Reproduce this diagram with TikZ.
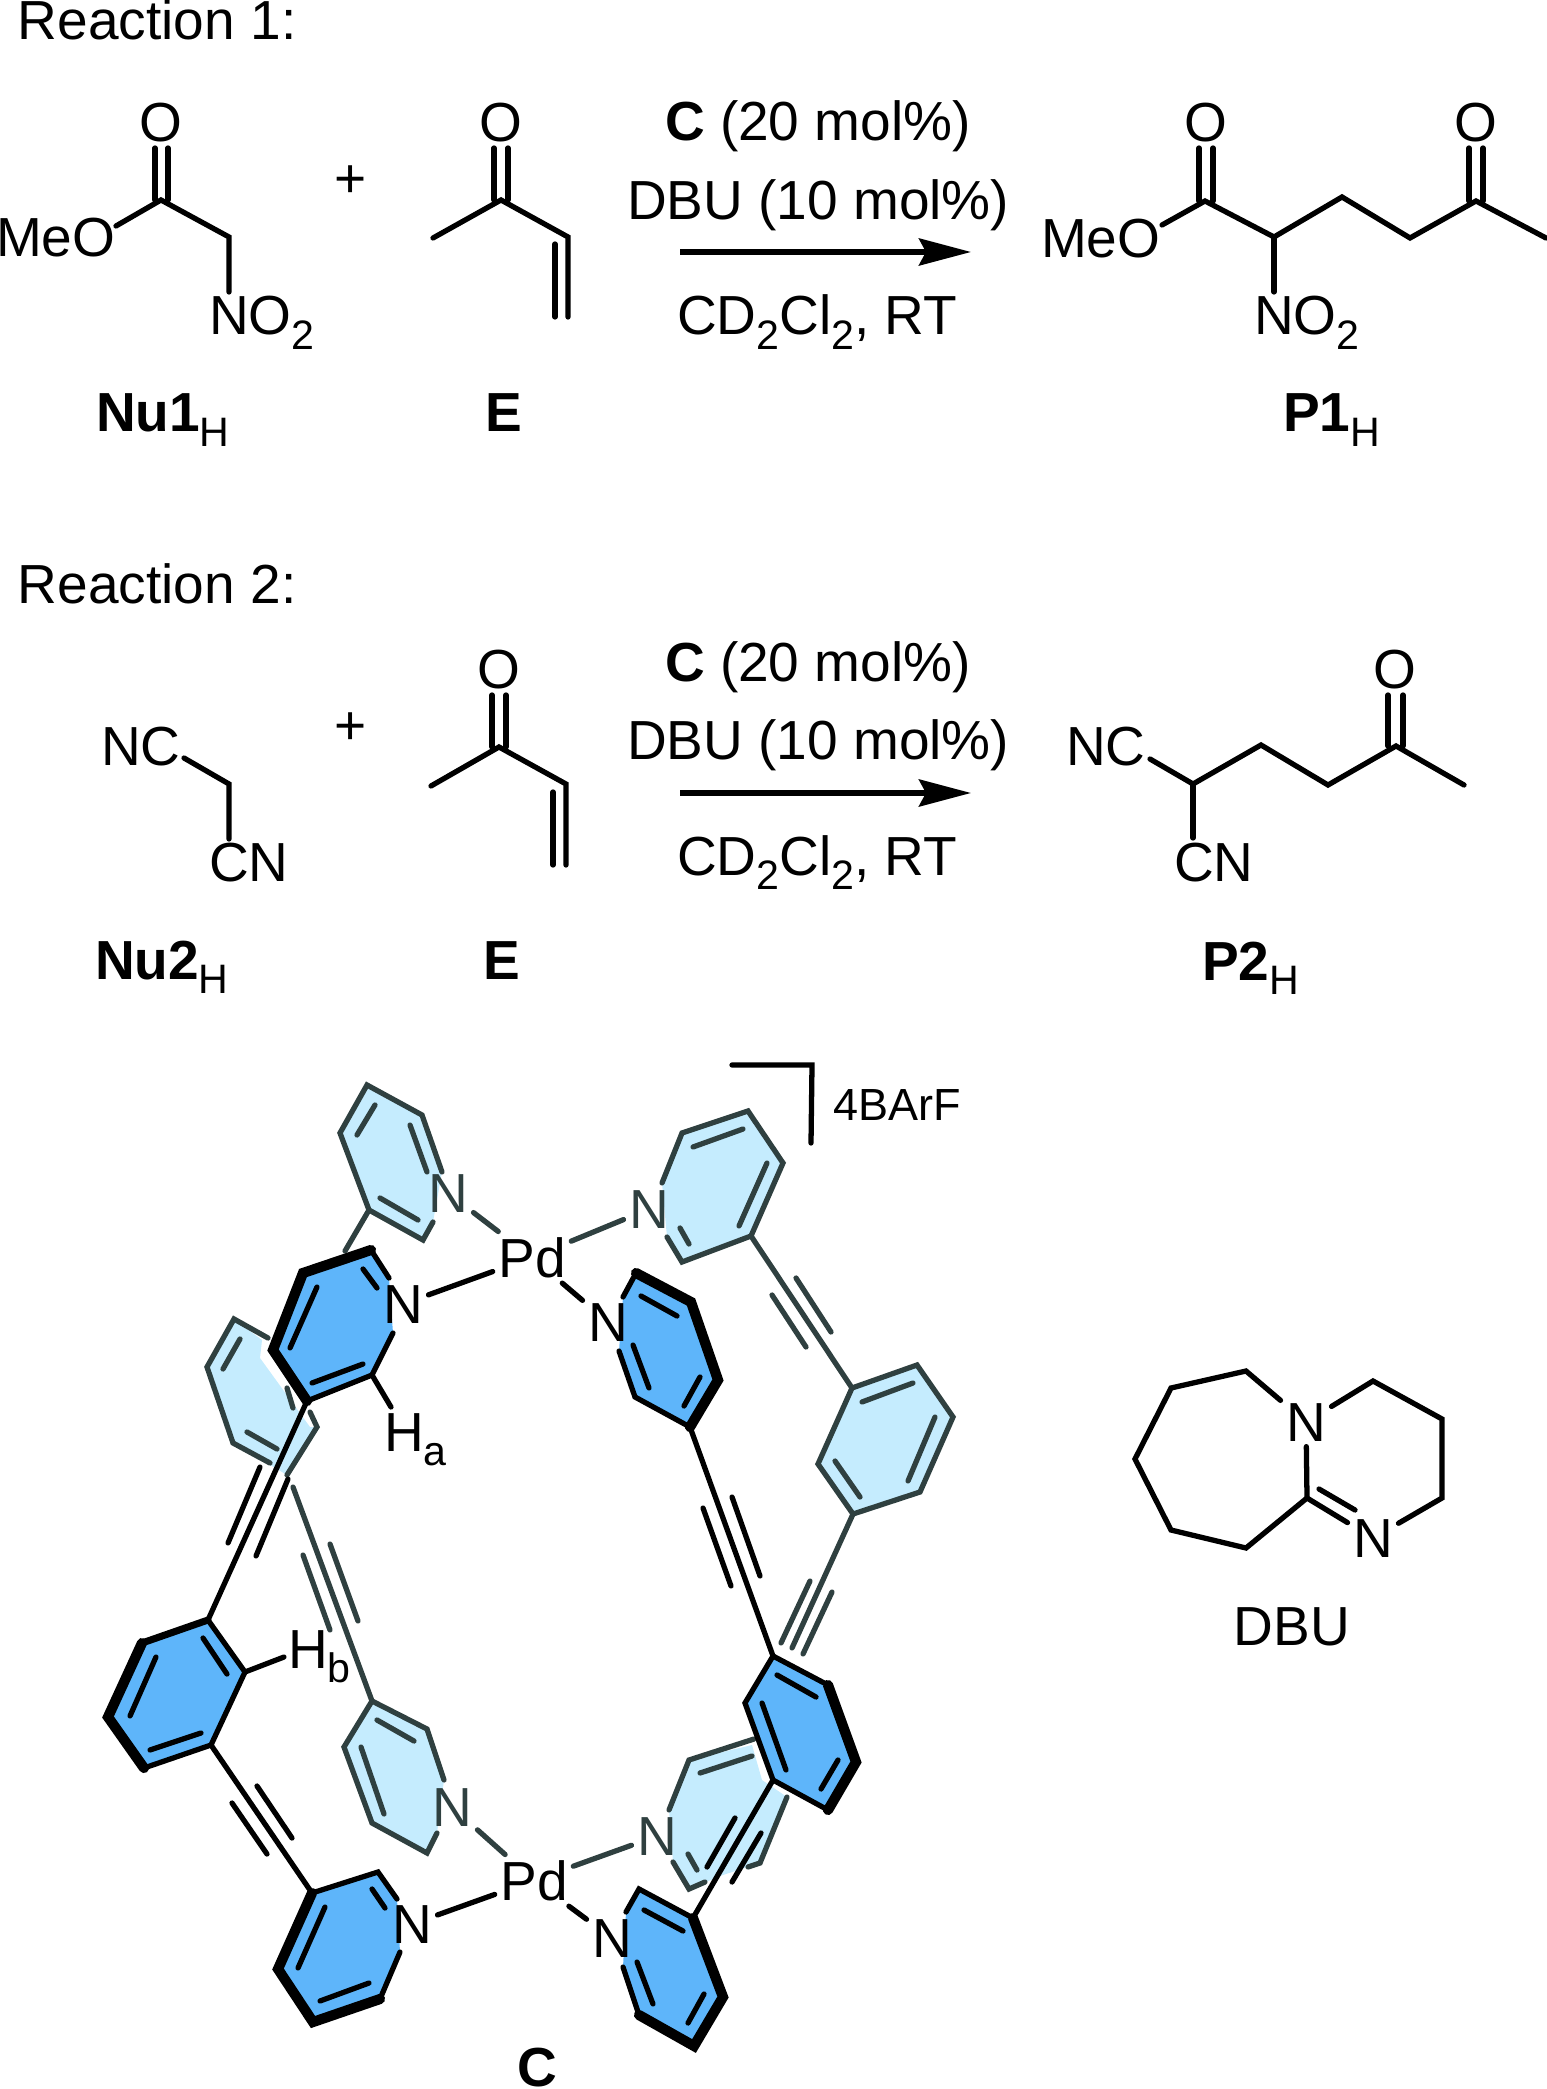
\documentclass[tikz,border=0pt]{standalone}
\usepackage{fontspec}
\setmainfont{Liberation Sans}
\usetikzlibrary{arrows.meta}
\definecolor{backgray}{HTML}{2F4040}
\definecolor{darkring}{HTML}{5EB5FA}
\definecolor{lightring}{HTML}{C5ECFE}
\newcommand{\lowsub}[1]{\raisebox{-4pt}{\fontsize{11.7}{12}\selectfont #1}}
\tikzset{
  bond/.style={line width=1.5pt,line cap=round,line join=miter},
  boldbond/.style={line width=2.9pt,line cap=round,line join=miter},
  backbond/.style={bond,draw=backgray},
  atom/.style={inner sep=0pt,outer sep=1.6pt,anchor=base,font=\fontsize{15.65}{18}\selectfont},
  backatom/.style={atom,text=backgray},
  txt/.style={atom,outer sep=0pt,anchor=base west}
}
\begin{document}
\begin{tikzpicture}[x=0.01cm,y=-0.01cm]
\useasboundingbox (0,0) rectangle (1546,2089);
\node[txt] (Trxa) at (18,40) {Reaction 1:};
\node[txt] (Trxb) at (18,604) {Reaction 2:};
\node[atom] (Oa) at (161,142) {O};
\node[txt] (Mea) at (-4,257) {MeO};
\node[txt] (Noa) at (209,335) {NO\lowsub{2}};
\node[atom,anchor=center] (Plusa) at (351,182) {+};
\node[atom] (Ob) at (501,142) {O};
\node[txt] (Nua) at (96,432) {\textbf{Nu1}\lowsub{H}};
\node[txt] (Ea) at (485,432) {\textbf{E}};
\node[txt] (Caa) at (665,141) {\textbf{C} (20 mol\%)};
\node[txt] (Dba) at (627,220) {DBU (10 mol\%)};
\node[txt] (Cda) at (677,335) {CD\lowsub{2}Cl\lowsub{2}, RT};
\node[txt] (Mep) at (1041,258) {MeO};
\node[atom] (Oc) at (1206,142) {O};
\node[atom] (Od) at (1476,142) {O};
\node[txt] (Nop) at (1254,335) {NO\lowsub{2}};
\node[txt] (Pa) at (1283,432) {\textbf{P1}\lowsub{H}};
\coordinate (aa) at (116,226); \coordinate (ab) at (161,200); \coordinate (ac) at (229,237); \coordinate (ad) at (229,292);
\coordinate (ae) at (155,148); \coordinate (af) at (155,200); \coordinate (ag) at (168,148); \coordinate (ah) at (168,200);
\coordinate (ea) at (433,238); \coordinate (eb) at (501,200); \coordinate (ec) at (568,237); \coordinate (ed) at (568,317);
\coordinate (ee) at (555,244); \coordinate (ef) at (555,317);
\coordinate (eg) at (494,148); \coordinate (eh) at (494,200); \coordinate (ei) at (508,148); \coordinate (ej) at (508,200);
\coordinate (ra) at (680,252); \coordinate (rb) at (971,252);
\coordinate (pa) at (1162,225); \coordinate (pb) at (1205,201); \coordinate (pc) at (1274,237); \coordinate (pd) at (1342,197);
\coordinate (pe) at (1410,238); \coordinate (pf) at (1476,201); \coordinate (pg) at (1546,238); \coordinate (ph) at (1274,292);
\coordinate (pi) at (1199,148); \coordinate (pj) at (1199,201); \coordinate (pk) at (1213,148); \coordinate (pl) at (1213,201);
\coordinate (pm) at (1469,148); \coordinate (pn) at (1469,201); \coordinate (po) at (1483,148); \coordinate (pp) at (1483,201);
\draw[bond] (aa) -- (ab) -- (ac) -- (ad);
\draw[bond] (ae) -- (af);
\draw[bond] (ag) -- (ah);
\draw[bond] (ea) -- (eb) -- (ec) -- (ed);
\draw[bond] (ee) -- (ef);
\draw[bond] (eg) -- (eh);
\draw[bond] (ei) -- (ej);
\draw[line width=1.55pt,-{Stealth[length=0.52cm,width=0.27cm,inset=0.07cm]}] (ra) -- (rb);
\draw[bond] (pa) -- (pb) -- (pc) -- (pd) -- (pe) -- (pf) -- (pg);
\draw[bond] (pc) -- (ph);
\draw[bond] (pi) -- (pj);
\draw[bond] (pk) -- (pl);
\draw[bond] (pm) -- (pn);
\draw[bond] (po) -- (pp);
\node[txt] (Ncq) at (101,766) {NC};
\node[txt] (Cnq) at (209,882) {CN};
\node[atom,anchor=center] (Plusb) at (351,729) {+};
\node[atom] (Oe) at (499,689) {O};
\node[txt] (Nub) at (95,979) {\textbf{Nu2}\lowsub{H}};
\node[txt] (Eb) at (483,979) {\textbf{E}};
\node[txt] (Cab) at (665,682) {\textbf{C} (20 mol\%)};
\node[txt] (Dbb) at (627,760) {DBU (10 mol\%)};
\node[txt] (Cdb) at (677,875) {CD\lowsub{2}Cl\lowsub{2}, RT};
\node[txt] (Ncr) at (1066,766) {NC};
\node[txt] (Cnr) at (1174,882) {CN};
\node[atom] (Of) at (1395,689) {O};
\node[txt] (Pb) at (1202,980) {\textbf{P2}\lowsub{H}};
\coordinate (qa) at (184,758); \coordinate (qb) at (229,784); \coordinate (qc) at (229,839);
\coordinate (sa) at (431,786); \coordinate (sb) at (499,747); \coordinate (sc) at (566,784); \coordinate (sd) at (566,865);
\coordinate (se) at (553,792); \coordinate (sf) at (553,865);
\coordinate (sg) at (492,695); \coordinate (sh) at (492,747); \coordinate (si) at (506,695); \coordinate (sj) at (506,747);
\coordinate (ta) at (680,793); \coordinate (tb) at (971,793);
\coordinate (ua) at (1150,759); \coordinate (ub) at (1193,784); \coordinate (uc) at (1261,745); \coordinate (ud) at (1328,785);
\coordinate (ue) at (1396,746); \coordinate (uf) at (1464,785); \coordinate (ug) at (1193,838);
\coordinate (uh) at (1388,695); \coordinate (ui) at (1388,746); \coordinate (uj) at (1403,695); \coordinate (uk) at (1403,746);
\draw[bond] (qa) -- (qb) -- (qc);
\draw[bond] (sa) -- (sb) -- (sc) -- (sd);
\draw[bond] (se) -- (sf);
\draw[bond] (sg) -- (sh);
\draw[bond] (si) -- (sj);
\draw[line width=1.55pt,-{Stealth[length=0.52cm,width=0.27cm,inset=0.07cm]}] (ta) -- (tb);
\draw[bond] (ua) -- (ub) -- (uc) -- (ud) -- (ue) -- (uf);
\draw[bond] (ub) -- (ug);
\draw[bond] (uh) -- (ui);
\draw[bond] (uj) -- (uk);
\node[atom] (Pdt) at (532,1277) {Pd};
\node[atom] (Pdb) at (534,1900) {Pd};
\node[txt] (Ha) at (384,1451) {H\lowsub{a}};
\node[txt] (Hb) at (288,1668) {H\lowsub{b}};
\node[atom,font=\fontsize{15.65}{18}\selectfont\bfseries] (Cage) at (537,2086) {C};
\node[txt,font=\fontsize{12.8}{15}\selectfont] (Anion) at (833,1120) {4BArF};
\coordinate (a1) at (367,1085); \coordinate (a2) at (422,1115); \coordinate (a3) at (423,1240); \coordinate (a4) at (369,1210); \coordinate (a5) at (340,1133); \coordinate (a6) at (345,1251);
\coordinate (a7) at (442,1172); \coordinate (a8) at (433,1222);
\coordinate (ap1) at (410,1125); \coordinate (ap2) at (427,1172); \coordinate (aq1) at (380,1198); \coordinate (aq2) at (418,1220); \coordinate (ar1) at (375,1105); \coordinate (ar2) at (357,1135);
\fill[lightring] (a1) -- (a2) -- (a7) -- (a8) -- (a3) -- (a4) -- (a5) -- cycle;
\node[backatom] (Na) at (448,1212) {N};
\draw[backbond] (a8) -- (a3) -- (a4) -- (a5) -- (a1) -- (a2) -- (a7);
\draw[backbond] (a4) -- (a6);
\draw[backbond] (ap1) -- (ap2);
\draw[backbond] (aq1) -- (aq2);
\draw[backbond] (ar1) -- (ar2);
\draw[backbond] (Na) -- (Pdt);
\coordinate (c1) at (234,1319); \coordinate (c2) at (268,1338); \coordinate (c3) at (262,1340); \coordinate (c4) at (260,1358); \coordinate (c5) at (310,1427); \coordinate (c6) at (317,1427);
\coordinate (c7) at (287,1475); \coordinate (c8) at (233,1443); \coordinate (c9) at (207,1367); \coordinate (c10) at (270,1463);
\coordinate (cf1) at (287,1388); \coordinate (cf2) at (293,1408); \coordinate (cf3) at (310,1412);
\coordinate (cp1) at (240,1339); \coordinate (cp2) at (223,1369); \coordinate (cq1) at (247,1432); \coordinate (cq2) at (277,1449);
\fill[lightring] (c1) -- (c3) -- (c4) -- (c5) -- (c6) -- (c7) -- (c8) -- (c9) -- cycle;
\draw[backbond] (c2) -- (c1) -- (c9) -- (c8) -- (c10);
\draw[backbond] (cf3) -- (c6) -- (c7);
\draw[backbond] (cf1) -- (cf2);
\draw[backbond] (cp1) -- (cp2);
\draw[backbond] (cq1) -- (cq2);
\coordinate (f1) at (372,1701); \coordinate (f2) at (427,1729); \coordinate (f3) at (444,1780); \coordinate (f4) at (437,1833); \coordinate (f5) at (427,1853); \coordinate (f6) at (372,1823); \coordinate (f7) at (344,1747);
\coordinate (f8) at (293,1487); \coordinate (fs1) at (303,1555); \coordinate (fs2) at (330,1630); \coordinate (fs3) at (330,1544); \coordinate (fs4) at (358,1621);
\coordinate (fp1) at (377,1720); \coordinate (fp2) at (414,1741); \coordinate (fq1) at (361,1747); \coordinate (fq2) at (384,1814);
\fill[lightring] (f1) -- (f2) -- (f3) -- (f4) -- (f5) -- (f6) -- (f7) -- cycle;
\node[backatom] (Nf) at (452,1826) {N};
\draw[backbond] (f3) -- (f2) -- (f1) -- (f7) -- (f6) -- (f5) -- (f4);
\draw[backbond] (f8) -- (f1);
\draw[backbond] (fs1) -- (fs2);
\draw[backbond] (fs3) -- (fs4);
\draw[backbond] (fp1) -- (fp2);
\draw[backbond] (fq1) -- (fq2);
\draw[backbond] (Nf) -- (Pdb);
\coordinate (g1) at (682,1133); \coordinate (g2) at (748,1111); \coordinate (g3) at (783,1163); \coordinate (g4) at (751,1236); \coordinate (g5) at (682,1262); \coordinate (g6) at (667,1237); \coordinate (g7) at (662,1183);
\coordinate (gs1) at (772,1295); \coordinate (gs2) at (806,1347); \coordinate (gs3) at (796,1278); \coordinate (gs4) at (831,1332);
\coordinate (gp1) at (693,1147); \coordinate (gp2) at (743,1129); \coordinate (gq1) at (767,1163); \coordinate (gq2) at (739,1226); \coordinate (gr1) at (680,1228); \coordinate (gr2) at (689,1244);
\coordinate (h1) at (852,1388); \coordinate (h2) at (917,1365); \coordinate (h3) at (953,1417); \coordinate (h4) at (920,1492); \coordinate (h5) at (853,1514); \coordinate (h6) at (818,1464);
\coordinate (hp1) at (862,1402); \coordinate (hp2) at (913,1383); \coordinate (hq1) at (935,1417); \coordinate (hq2) at (908,1481); \coordinate (hr1) at (835,1461); \coordinate (hr2) at (860,1497);
\coordinate (h7) at (792,1648); \coordinate (hs1) at (810,1581); \coordinate (hs2) at (781,1643); \coordinate (hs3) at (832,1592); \coordinate (hs4) at (803,1654);
\fill[lightring] (g1) -- (g2) -- (g3) -- (g4) -- (g5) -- (g6) -- (g7) -- cycle;
\fill[lightring] (h1) -- (h2) -- (h3) -- (h4) -- (h5) -- (h6) -- cycle;
\node[backatom] (Ng) at (649,1228) {N};
\draw[backbond] (g7) -- (g1) -- (g2) -- (g3) -- (g4) -- (g5) -- (g6);
\draw[backbond] (gp1) -- (gp2);
\draw[backbond] (gq1) -- (gq2);
\draw[backbond] (gr1) -- (gr2);
\draw[backbond] (Ng) -- (Pdt);
\draw[backbond] (g4) -- (h1) -- (h2) -- (h3) -- (h4) -- (h5) -- (h6) -- (h1);
\draw[backbond] (gs1) -- (gs2);
\draw[backbond] (gs3) -- (gs4);
\draw[backbond] (hp1) -- (hp2);
\draw[backbond] (hq1) -- (hq2);
\draw[backbond] (hr1) -- (hr2);
\draw[backbond] (h5) -- (h7);
\draw[backbond] (hs1) -- (hs2);
\draw[backbond] (hs3) -- (hs4);
\coordinate (l1) at (689,1760); \coordinate (l2) at (754,1739); \coordinate (l3) at (669,1810); \coordinate (l4) at (787,1797); \coordinate (l5) at (760,1863); \coordinate (l6) at (748,1867);
\coordinate (l7) at (673,1862); \coordinate (l8) at (689,1889); \coordinate (l9) at (705,1882);
\coordinate (lf1) at (752,1745); \coordinate (lf2) at (762,1780); \coordinate (lf3) at (723,1875);
\coordinate (lp1) at (700,1773); \coordinate (lp2) at (752,1756); \coordinate (lq1) at (688,1854); \coordinate (lq2) at (697,1870);
\fill[lightring] (l1) -- (lf1) -- (lf2) -- (l4) -- (l5) -- (lf3) -- (l8) -- (l7) -- (l3) -- cycle;
\node[backatom] (Nl) at (657,1855) {N};
\draw[backbond] (l3) -- (l1) -- (l2);
\draw[backbond] (l4) -- (l5) -- (l6);
\draw[backbond] (l7) -- (l8) -- (l9);
\draw[backbond] (lp1) -- (lp2);
\draw[backbond] (lq1) -- (lq2);
\draw[backbond] (Nl) -- (Pdb);
\coordinate (b1) at (371,1250); \coordinate (b2) at (389,1278); \coordinate (b3) at (393,1333); \coordinate (b4) at (372,1375); \coordinate (b5) at (307,1401); \coordinate (b6) at (273,1350); \coordinate (b7) at (303,1273);
\coordinate (b8) at (391,1407);
\coordinate (bp1) at (363,1269); \coordinate (bp2) at (377,1288); \coordinate (bq1) at (317,1287); \coordinate (bq2) at (290,1348); \coordinate (br1) at (312,1383); \coordinate (br2) at (363,1364);
\fill[darkring] (b1) -- (b2) -- (b3) -- (b4) -- (b5) -- (b6) -- (b7) -- cycle;
\node[atom] (Nb) at (403,1323) {N};
\draw[bond] (b2) -- (b1);
\draw[bond] (b3) -- (b4) -- (b5);
\draw[boldbond] (b1) -- (b7) -- (b6) -- (b5);
\draw[bond] (b4) -- (b8);
\draw[bond] (bp1) -- (bp2);
\draw[bond] (bq1) -- (bq2);
\draw[bond] (br1) -- (br2);
\draw[bond] (Nb) -- (Pdt);
\coordinate (d1) at (208,1620); \coordinate (d2) at (245,1672); \coordinate (d3) at (211,1745); \coordinate (d4) at (144,1768); \coordinate (d5) at (108,1717); \coordinate (d6) at (142,1643);
\coordinate (d7) at (284,1657);
\coordinate (ds1) at (260,1467); \coordinate (ds2) at (228,1543); \coordinate (ds3) at (288,1479); \coordinate (ds4) at (256,1556);
\coordinate (dp1) at (203,1638); \coordinate (dp2) at (227,1674); \coordinate (dq1) at (156,1657); \coordinate (dq2) at (130,1716); \coordinate (dr1) at (150,1750); \coordinate (dr2) at (201,1733);
\fill[darkring] (d1) -- (d2) -- (d3) -- (d4) -- (d5) -- (d6) -- cycle;
\draw[bond] (d1) -- (d2) -- (d3) -- (d4);
\draw[bond,line width=2pt] (d1) -- (d6);
\draw[boldbond] (d6) -- (d5) -- (d4);
\draw[bond] (d2) -- (d7);
\draw[bond] (b5) -- (d1);
\draw[bond] (ds1) -- (ds2);
\draw[bond] (ds3) -- (ds4);
\draw[bond] (dp1) -- (dp2);
\draw[bond] (dq1) -- (dq2);
\draw[bond] (dr1) -- (dr2);
\coordinate (e1) at (312,1893); \coordinate (e2) at (378,1872); \coordinate (e3) at (397,1899); \coordinate (e4) at (400,1952); \coordinate (e5) at (380,1999); \coordinate (e6) at (313,2022); \coordinate (e7) at (278,1969);
\coordinate (es1) at (232,1803); \coordinate (es2) at (267,1854); \coordinate (es3) at (257,1786); \coordinate (es4) at (292,1838);
\coordinate (ep1) at (372,1889); \coordinate (ep2) at (385,1908); \coordinate (eq1) at (325,1907); \coordinate (eq2) at (298,1968); \coordinate (er1) at (320,2001); \coordinate (er2) at (369,1983);
\fill[darkring] (e1) -- (e2) -- (e3) -- (e4) -- (e5) -- (e6) -- (e7) -- cycle;
\node[atom] (Ne) at (412,1943) {N};
\draw[bond] (e3) -- (e2) -- (e1);
\draw[bond] (e4) -- (e5);
\draw[boldbond] (e1) -- (e7) -- (e6) -- (e5);
\draw[bond] (d3) -- (e1);
\draw[bond] (es1) -- (es2);
\draw[bond] (es3) -- (es4);
\draw[bond] (ep1) -- (ep2);
\draw[bond] (eq1) -- (eq2);
\draw[bond] (er1) -- (er2);
\draw[bond] (Ne) -- (Pdb);
\coordinate (j1) at (636,1273); \coordinate (j2) at (691,1302); \coordinate (j3) at (718,1380); \coordinate (j4) at (690,1427); \coordinate (j5) at (635,1397); \coordinate (j6) at (619,1351); \coordinate (j7) at (623,1297);
\coordinate (jp1) at (641,1296); \coordinate (jp2) at (677,1316); \coordinate (jq1) at (700,1377); \coordinate (jq2) at (684,1406); \coordinate (jr1) at (633,1345); \coordinate (jr2) at (649,1388);
\coordinate (js1) at (703,1508); \coordinate (js2) at (731,1586); \coordinate (js3) at (732,1497); \coordinate (js4) at (760,1576);
\fill[darkring] (j1) -- (j2) -- (j3) -- (j4) -- (j5) -- (j6) -- (j7) -- cycle;
\node[atom] (Nj) at (608,1341) {N};
\draw[bond] (j7) -- (j1);
\draw[bond] (j6) -- (j5) -- (j4);
\draw[boldbond] (j1) -- (j2) -- (j3) -- (j4);
\draw[bond] (jp1) -- (jp2);
\draw[bond] (jq1) -- (jq2);
\draw[bond] (jr1) -- (jr2);
\draw[bond] (Nj) -- (Pdt);
\coordinate (i1) at (773,1656); \coordinate (i2) at (828,1685); \coordinate (i3) at (856,1762); \coordinate (i4) at (828,1810); \coordinate (i5) at (773,1780); \coordinate (i6) at (745,1703);
\coordinate (ip1) at (777,1675); \coordinate (ip2) at (816,1697); \coordinate (iq1) at (838,1760); \coordinate (iq2) at (821,1789); \coordinate (ir1) at (762,1703); \coordinate (ir2) at (786,1770);
\coordinate (is1) at (735,1818); \coordinate (is2) at (707,1867); \coordinate (is3) at (761,1833); \coordinate (is4) at (732,1882);
\fill[darkring] (i1) -- (i2) -- (i3) -- (i4) -- (i5) -- (i6) -- cycle;
\draw[bond] (i2) -- (i1) -- (i6) -- (i5) -- (i4);
\draw[boldbond] (i2) -- (i3) -- (i4);
\draw[bond] (j4) -- (i1);
\draw[bond] (js1) -- (js2);
\draw[bond] (js3) -- (js4);
\draw[bond] (ip1) -- (ip2);
\draw[bond] (iq1) -- (iq2);
\draw[bond] (ir1) -- (ir2);
\coordinate (k1) at (693,1918); \coordinate (k2) at (639,1889); \coordinate (k3) at (626,1912); \coordinate (k4) at (623,1967); \coordinate (k5) at (639,2015); \coordinate (k6) at (694,2046); \coordinate (k7) at (723,1997);
\coordinate (kp1) at (644,1910); \coordinate (kp2) at (683,1931); \coordinate (kq1) at (704,1994); \coordinate (kq2) at (688,2023); \coordinate (kr1) at (637,1962); \coordinate (kr2) at (653,2004);
\fill[darkring] (k1) -- (k2) -- (k3) -- (k4) -- (k5) -- (k6) -- (k7) -- cycle;
\node[atom] (Nk) at (612,1957) {N};
\draw[bond] (k3) -- (k2) -- (k1);
\draw[bond] (k4) -- (k5);
\draw[boldbond] (k1) -- (k7) -- (k6) -- (k5);
\draw[bond] (i5) -- (k1);
\draw[bond] (is1) -- (is2);
\draw[bond] (is3) -- (is4);
\draw[bond] (kp1) -- (kp2);
\draw[bond] (kq1) -- (kq2);
\draw[bond] (kr1) -- (kr2);
\draw[bond] (Nk) -- (Pdb);
\coordinate (ba) at (732,1065); \coordinate (bb) at (812,1065); \coordinate (bc) at (811,1143);
\draw[bond] (ba) -- (bb) -- (bc);
\node[atom] (Nm) at (1306,1441) {N};
\node[atom] (Nn) at (1373,1557) {N};
\node[atom] (Dbu) at (1292,1645) {DBU};
\coordinate (m1) at (1246,1371); \coordinate (m2) at (1171,1388); \coordinate (m3) at (1135,1459); \coordinate (m4) at (1171,1530); \coordinate (m5) at (1246,1548); \coordinate (m6) at (1307,1498);
\coordinate (m7) at (1373,1381); \coordinate (m8) at (1442,1419); \coordinate (m9) at (1442,1498);
\coordinate (mp1) at (1319,1489); \coordinate (mp2) at (1355,1510);
\draw[bond] (Nm) -- (m1) -- (m2) -- (m3) -- (m4) -- (m5) -- (m6) -- (Nm);
\draw[bond] (Nm) -- (m7) -- (m8) -- (m9) -- (Nn);
\draw[bond] (m6) -- (Nn);
\draw[bond] (mp1) -- (mp2);
\end{tikzpicture}
\end{document}
